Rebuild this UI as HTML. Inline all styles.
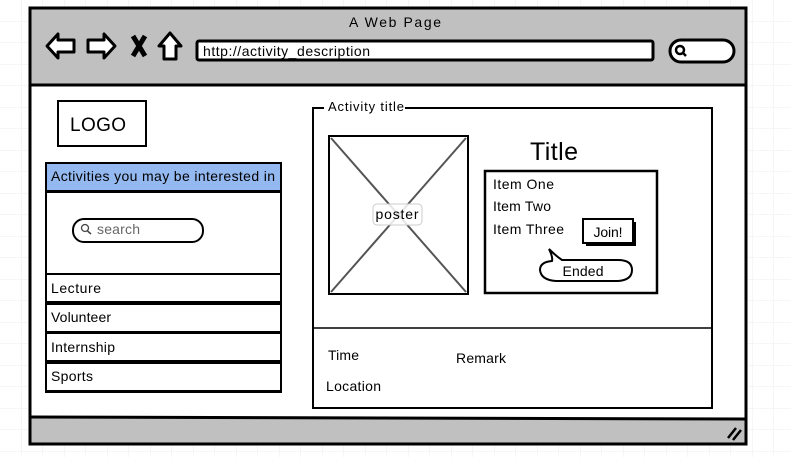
<!DOCTYPE html>
<html><head><meta charset="utf-8"><style>
html,body{margin:0;padding:0;background:#fff}
svg{display:block}
text{font-family:"Liberation Sans",sans-serif;fill:#000}
</style></head><body>
<svg width="791" height="457" viewBox="0 0 791 457" xmlns="http://www.w3.org/2000/svg">
<defs><pattern id="g" width="21.5" height="21.5" patternUnits="userSpaceOnUse"><path d="M21.5 0V21.5H0" fill="none" stroke="#eeeeee" stroke-width="1"/></pattern></defs>
<rect width="791" height="457" fill="url(#g)"/>
<rect x="30" y="8" width="716" height="436" fill="#fff"/>
<rect x="30" y="8" width="716" height="77" fill="#c0c0c0"/>
<rect x="30" y="418" width="716" height="26" fill="#c0c0c0"/>
<line x1="30" y1="85" x2="746" y2="85" stroke="#000" stroke-width="3"/>
<line x1="30" y1="417" x2="746" y2="419" stroke="#000" stroke-width="3"/>
<rect x="30" y="8" width="716" height="436" fill="none" stroke="#000" stroke-width="3"/>
<text x="395" y="27" font-size="14" text-anchor="middle" textLength="92">A Web Page</text>
<path d="M47 46 L58 34 V40 H74 V52 H58 V58 Z" fill="#fff" stroke="#000" stroke-width="3" stroke-linejoin="round"/>
<path d="M115 46 L104 34 V40 H88 V52 H104 V58 Z" fill="#fff" stroke="#000" stroke-width="3" stroke-linejoin="round"/>
<path d="M133 36 L145 56 M145 36 L133 56" stroke="#000" stroke-width="5"/>
<path d="M170 33 L159 46 H164 V59 H176 V46 H181 Z" fill="#fff" stroke="#000" stroke-width="3" stroke-linejoin="round"/>
<rect x="197" y="41" width="456" height="19" rx="2" fill="#fff" stroke="#000" stroke-width="3"/>
<text x="203" y="56" font-size="14" textLength="167">http://activity_description</text>
<rect x="670" y="40" width="64" height="22" rx="11" fill="#fff" stroke="#000" stroke-width="3"/>
<circle cx="680" cy="50" r="4" fill="none" stroke="#000" stroke-width="2.5"/><line x1="683" y1="53" x2="686" y2="56" stroke="#000" stroke-width="2.5"/>
<path d="M728 438 L736 428 M733 440 L741 430" stroke="#000" stroke-width="2.5"/>
<rect x="58" y="101" width="88" height="45" fill="#fff" stroke="#000" stroke-width="2"/>
<text x="70" y="131" font-size="19" textLength="56">LOGO</text>
<rect x="46" y="192" width="235" height="200" fill="#fff" stroke="#000" stroke-width="2"/>
<rect x="46" y="163" width="235" height="28" fill="#94b8f0" stroke="#000" stroke-width="2"/>
<text x="51" y="181" font-size="14" textLength="224">Activities you may be interested in</text>
<rect x="73" y="219" width="130" height="23" rx="11" fill="#fff" stroke="#000" stroke-width="2"/>
<circle cx="85" cy="228" r="3.5" fill="none" stroke="#444" stroke-width="1.3"/><line x1="87.5" y1="231" x2="91" y2="234" stroke="#444" stroke-width="1.5"/>
<text x="97" y="234" font-size="14" style="fill:#666" textLength="43">search</text>
<rect x="46" y="274" width="235" height="28" fill="#fff" stroke="#000" stroke-width="2"/>
<rect x="46" y="304" width="235" height="28" fill="#fff" stroke="#000" stroke-width="2"/>
<rect x="46" y="333" width="235" height="28" fill="#fff" stroke="#000" stroke-width="2"/>
<rect x="46" y="363" width="235" height="28" fill="#fff" stroke="#000" stroke-width="2"/>
<text x="51" y="293" font-size="14" textLength="50">Lecture</text>
<text x="51" y="322" font-size="14" textLength="60">Volunteer</text>
<text x="51" y="352" font-size="14" textLength="64">Internship</text>
<text x="51" y="381" font-size="14" textLength="42">Sports</text>
<rect x="313" y="108" width="399" height="300" fill="#fff" stroke="#000" stroke-width="2"/>
<rect x="323" y="99" width="82" height="16" fill="#fff"/>
<line x1="313" y1="108" x2="324" y2="108" stroke="#000" stroke-width="2"/>
<text x="328" y="111" font-size="13" textLength="76">Activity title</text>
<line x1="313" y1="328" x2="712" y2="328" stroke="#000" stroke-width="1.5"/>
<rect x="329" y="136" width="139" height="158" fill="#fff" stroke="#000" stroke-width="2"/>
<path d="M331 138 L466 292 M466 138 L331 292" stroke="#555" stroke-width="2"/>
<rect x="373" y="204" width="49" height="21" rx="4" fill="#fff" fill-opacity="0.85" stroke="#ccc"/>
<text x="397" y="219" font-size="14" text-anchor="middle" textLength="43">poster</text>
<text x="530" y="160" font-size="25" textLength="48">Title</text>
<rect x="485" y="171" width="172" height="122" fill="#fff" stroke="#000" stroke-width="2.5"/>
<text x="493" y="189" font-size="14" textLength="61">Item One</text>
<text x="493" y="211" font-size="14" textLength="58">Item Two</text>
<text x="493" y="234" font-size="14" textLength="71">Item Three</text>
<rect x="586" y="222" width="50" height="24" fill="#000"/>
<rect x="583" y="219" width="50" height="24" fill="#fff" stroke="#000" stroke-width="2"/>
<text x="608" y="237" font-size="14" text-anchor="middle" textLength="29">Join!</text>
<path d="M552 261 Q540 262 540 270 Q541 280 556 281 L618 281 Q632 280 632 270 Q632 260 618 260 L562 260 Q556 256 549 249 Q553 257 552 261 Z" fill="#fff" stroke="#000" stroke-width="2"/>
<text x="583" y="276" font-size="14" text-anchor="middle" textLength="41">Ended</text>
<text x="328" y="360" font-size="14" textLength="31">Time</text>
<text x="456" y="363" font-size="14" textLength="50">Remark</text>
<text x="326" y="391" font-size="14" textLength="55">Location</text>
</svg>
</body></html>
